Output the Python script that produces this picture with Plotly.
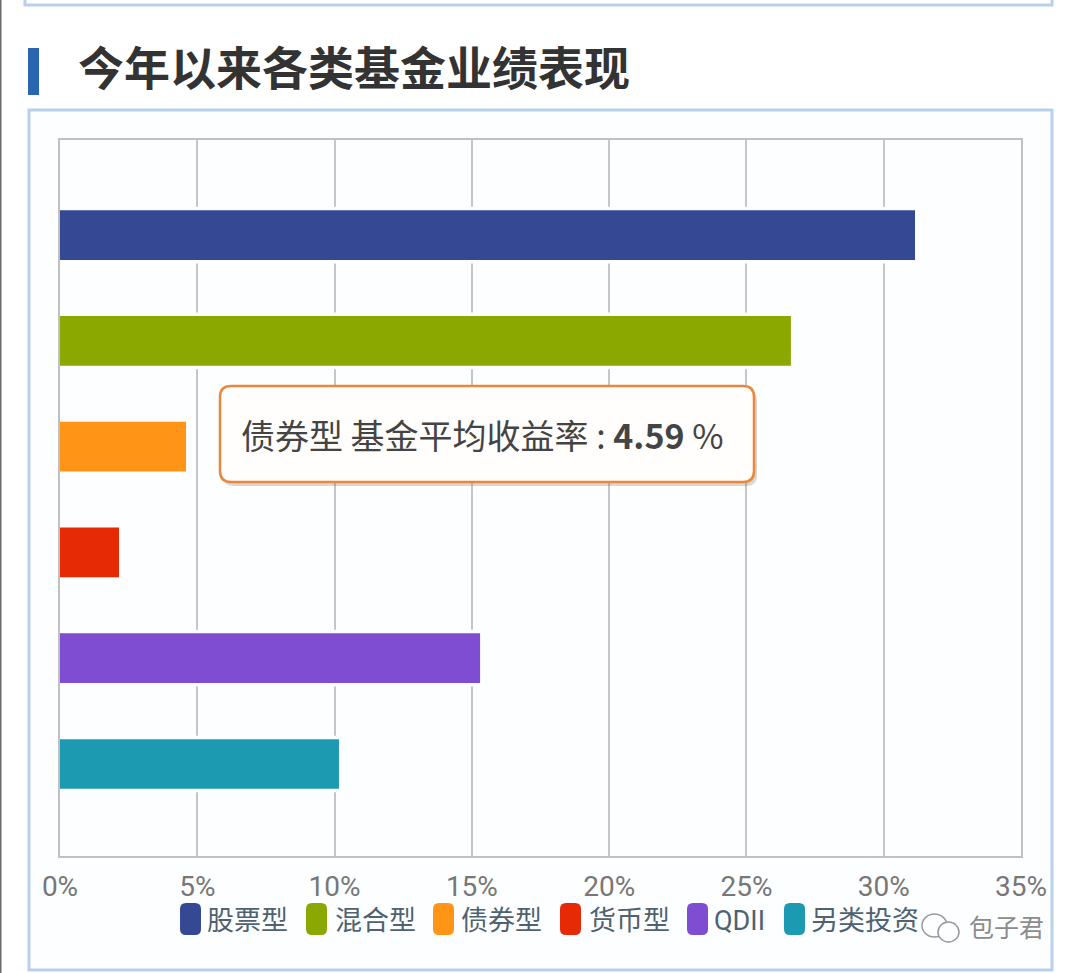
import plotly.graph_objects as go

W, H = 1080, 973
title = "今年以来各类基金业绩表现"
categories = ["股票型", "混合型", "债券型", "货币型", "QDII", "另类投资"]
returns = [31.14, 26.62, 4.59, 2.15, 15.3, 10.16]
colors = ["#344893", "#8ba800", "#ff9416", "#e62a06", "#7e4dd2", "#1b9ab2"]
x_ticks = [0, 5, 10, 15, 20, 25, 30, 35]
tooltip_index = 2
legend_swatch_left = [180, 306, 433, 560, 687, 784]
legend_text_left = [205, 333, 459, 587, 712, 809]
CJK = "Noto Sans CJK SC"
LATIN = "Roboto, " + CJK


def px(x):
    return x / W


def py(y):
    return 1 - y / H


def rounded(x0, y0, x1, y1, r):
    X0, X1, Y0, Y1 = px(x0), px(x1), py(y0), py(y1)
    rx, ry = r / W, r / H
    return (
        f"M{X0 + rx},{Y0} L{X1 - rx},{Y0} Q{X1},{Y0} {X1},{Y0 - ry} "
        f"L{X1},{Y1 + ry} Q{X1},{Y1} {X1 - rx},{Y1} L{X0 + rx},{Y1} "
        f"Q{X0},{Y1} {X0},{Y1 + ry} L{X0},{Y0 - ry} Q{X0},{Y0} {X0 + rx},{Y0} Z"
    )


def shape_path(path, fill=None, line=None, lw=0, layer="above"):
    return dict(type="path", xref="paper", yref="paper", path=path,
                fillcolor=fill or "rgba(0,0,0,0)", layer=layer,
                line=dict(color=line or "rgba(0,0,0,0)", width=lw))


def shape_box(x0, y0, x1, y1, fill=None, line=None, lw=0, layer="below"):
    return dict(type="rect", xref="paper", yref="paper",
                x0=px(x0), x1=px(x1), y0=py(y0), y1=py(y1),
                fillcolor=fill or "rgba(0,0,0,0)", layer=layer,
                line=dict(color=line or "rgba(0,0,0,0)", width=lw))


def text(s, x, y, size, color, anchor="left", family=CJK):
    return dict(text=s, xref="paper", yref="paper", x=px(x), y=py(y),
                xanchor=anchor, yanchor="middle", showarrow=False,
                font=dict(size=size, color=color, family=family))


fig = go.Figure()
# pale halo that interrupts the gridlines around every bar
fig.add_trace(go.Bar(x=returns, y=categories, orientation="h", width=0.47,
                     marker=dict(color="#fdfeff", line=dict(color="#fdfeff", width=7)),
                     hoverinfo="skip", showlegend=False))
fig.add_trace(go.Bar(x=returns, y=categories, orientation="h", width=0.47,
                     marker=dict(color=colors, line=dict(width=0)),
                     hovertemplate="%{y}: %{x}%<extra></extra>", showlegend=False))

shapes = [
    shape_box(0, 0, 1.5, H, fill="#6a6a6a"),
    shape_box(25, -10, 1052, 5, line="#b9d0ea", lw=3),
    shape_box(29, 110, 1052, 970, fill="#fdfeff", line="#b9d0ea", lw=3),
    shape_box(28, 48, 39, 95, fill="#2a66b0"),
]
# tooltip: shadow, then the box
shapes.append(shape_path(rounded(223, 390, 757, 486, 11), fill="rgba(120,95,70,0.25)"))
shapes.append(shape_path(rounded(220, 386, 754, 482, 11), fill="#fffefd", line="#e9883c", lw=2.5))
# legend swatches
for left, c in zip(legend_swatch_left, colors):
    shapes.append(shape_path(rounded(left, 903, left + 21, 935, 6), fill=c))
# watermark speech bubbles
shapes.append(dict(type="circle", xref="paper", yref="paper", x0=px(922), x1=px(947),
                   y0=py(937), y1=py(914), fillcolor="#fdfeff", line=dict(color="#9a9a9a", width=1.5)))
shapes.append(dict(type="circle", xref="paper", yref="paper", x0=px(938), x1=px(959),
                   y0=py(942), y1=py(922), fillcolor="#fdfeff", line=dict(color="#9a9a9a", width=1.5)))

annotations = [
    text("<b>" + title + "</b>", 76, 65, 46, "#333333"),
    text(f"{categories[tooltip_index]} 基金平均收益率 : <b>{returns[tooltip_index]}</b> %",
         239, 434, 34, "#444444"),
    text("包子君", 967, 926, 25, "#8c8c8c"),
]
for left, name in zip(legend_text_left, categories):
    annotations.append(text(name, left, 921, 27, "#4e6270", family=LATIN))
# keep the watermark on top of the last legend entry
annotations.append(annotations.pop(2))

fig.update_layout(
    width=W, height=H, autosize=False,
    margin=dict(l=0, r=0, t=0, b=0, autoexpand=False),
    paper_bgcolor="#ffffff", plot_bgcolor="rgba(0,0,0,0)",
    barmode="overlay", showlegend=False,
    font=dict(family=LATIN),
    shapes=shapes, annotations=annotations,
    xaxis=dict(domain=[px(60), px(1021)], range=[0, 35], tickmode="array",
               tickvals=x_ticks, ticktext=[f"{t}%" for t in x_ticks],
               tickfont=dict(size=28, color="#777777", family="Roboto"),
               showgrid=True, gridcolor="#c6c6c6", gridwidth=2, zeroline=False,
               showline=True, linecolor="#c0c0c0", linewidth=2, mirror=True,
               automargin=False, ticks="outside", ticklen=0, ticklabelstandoff=4),
    yaxis=dict(domain=[py(856), py(140)], range=[5.87, -0.9], type="category",
               categoryorder="array", categoryarray=categories,
               showticklabels=False, showgrid=False, zeroline=False,
               showline=True, linecolor="#c0c0c0", linewidth=2, mirror=True,
               automargin=False, ticks=""),
)

fig.write_html("out.html", config={"displayModeBar": False},
               post_script="document.body.style.margin='0';document.body.style.overflow='hidden';")
